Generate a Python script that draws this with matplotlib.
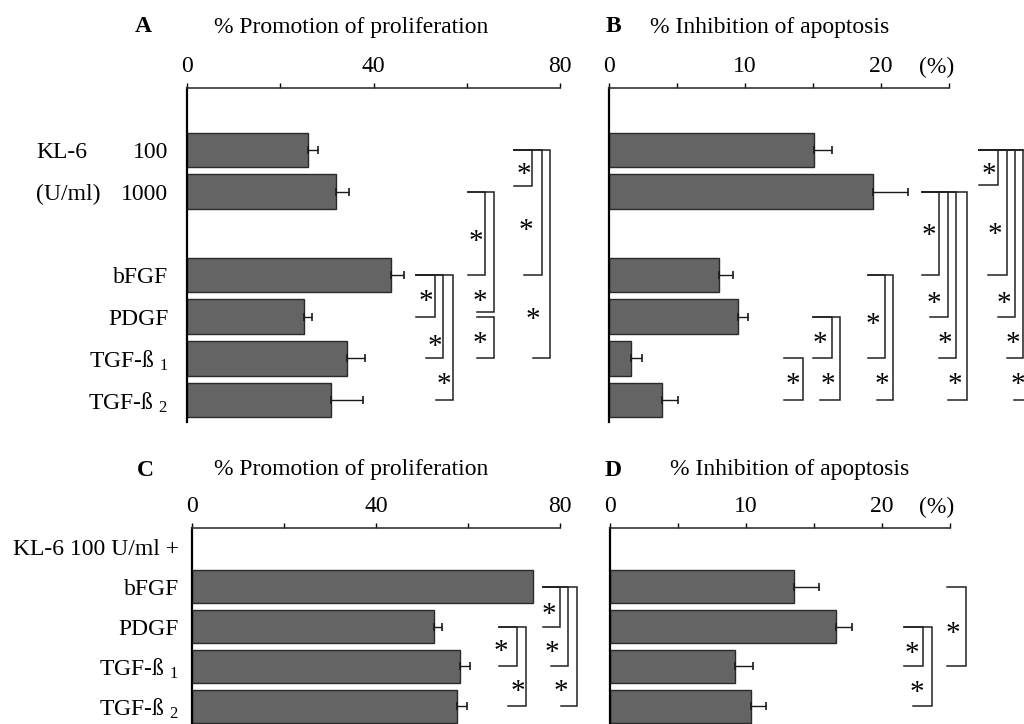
import matplotlib
matplotlib.use("Agg")
import matplotlib.pyplot as plt
from matplotlib import transforms

plt.rcParams["font.family"] = ["Liberation Serif", "DejaVu Serif"]
plt.rcParams["mathtext.default"] = "regular"
plt.rcParams["font.size"] = 17

W, H = 1024, 724

# single agents (panels A and B)
ab_rows = [0, 1, 3, 4, 5, 6]
ab_labels = ["100", "1000", "bFGF", "PDGF", "TGF-ß $_1$", "TGF-ß $_2$"]
prolif_a = [26.0, 32.0, 43.8, 25.0, 34.4, 30.9]
prolif_a_err = [2.1, 2.7, 2.7, 1.9, 3.7, 6.9]
apopt_b = [15.1, 19.4, 8.1, 9.5, 1.6, 3.9]
apopt_b_err = [1.3, 2.6, 1.0, 0.7, 0.8, 1.2]

# KL-6 100 U/ml combined with growth factors (panels C and D)
cd_rows = [1, 2, 3, 4]
cd_labels = ["KL-6 100 U/ml +", "bFGF", "PDGF", "TGF-ß $_1$", "TGF-ß $_2$"]
prolif_c = [74.2, 52.5, 58.3, 57.5]
prolif_c_err = [0.0, 1.8, 2.1, 2.2]
apopt_d = [13.5, 16.6, 9.2, 10.4]
apopt_d_err = [1.9, 1.2, 1.3, 1.1]

# significance brackets: (top row, top left, [(bottom row, vertical x, bottom left, star x, star y)])
brackets_a = [
    (3, 49.2, [(4, 53.2, 49.2, 51.3, 3.48), (5, 55.0, 51.3, 53.2, 4.56), (6, 57.0, 53.3, 55.0, 5.47)]),
    (1, 60.3, [(3, 64.0, 60.3, 61.9, 2.04), (3.9, 65.9, 62.2, 62.8, 3.48)]),
    (4.0, 62.2, [(5, 65.9, 62.2, 62.8, 4.5)]),
    (0, 70.1, [(0.87, 74.1, 70.1, 72.2, 0.43), (3, 76.1, 72.2, 72.6, 1.78), (5, 77.9, 74.2, 74.2, 3.91)]),
]
brackets_b = [
    (5, 12.9, [(6, 14.3, 12.9, 13.55, 5.47)]),
    (4, 14.97, [(5, 16.4, 14.97, 15.5, 4.49), (6, 17.0, 15.5, 16.1, 5.47)]),
    (3, 19.07, [(5, 20.3, 19.07, 19.4, 4.03), (6, 20.9, 19.7, 20.05, 5.47)]),
    (1, 23.0, [(3, 24.3, 23.0, 23.5, 1.9), (4, 24.95, 23.6, 23.9, 3.53),
               (5, 25.5, 24.3, 24.7, 4.49), (6, 26.3, 24.95, 25.4, 5.47)]),
    (0, 27.2, [(0.85, 28.6, 27.2, 27.9, 0.43), (3, 29.3, 27.9, 28.4, 1.87), (4, 29.85, 28.6, 29.0, 3.53),
               (5, 30.45, 29.3, 29.7, 4.49), (6, 31.0, 29.8, 30.1, 5.47)]),
]
brackets_c = [
    (2, 66.7, [(3, 70.6, 66.7, 67.25, 2.47), (4, 72.5, 68.75, 70.8, 3.47)]),
    (1, 76.25, [(2, 80.0, 76.25, 77.5, 1.53), (3, 81.7, 78.1, 78.3, 2.49), (4, 83.6, 80.25, 80.25, 3.47)]),
]
brackets_d = [
    (2, 21.6, [(3, 23.0, 21.6, 22.2, 2.52), (4, 23.65, 22.3, 22.55, 3.5)]),
    (1, 24.8, [(3, 26.2, 24.8, 25.2, 2.01)]),
]

fig = plt.figure(figsize=(W / 100, H / 100), dpi=100)


def make_axes(x0, x1, y0, y1):
    return fig.add_axes([x0 / W, 1 - y1 / H, (x1 - x0) / W, (y1 - y0) / H])


def style_axes(ax, xmax, major, ticklabels, ylim):
    ax.set_xlim(0, xmax)
    ax.set_ylim(*ylim)
    for side in ("right", "bottom"):
        ax.spines[side].set_visible(False)
    ax.spines["left"].set_linewidth(1.6)
    ax.spines["top"].set_linewidth(1.2)
    ax.spines["top"].set_color("#333333")
    ax.xaxis.tick_top()
    ax.set_xticks([i * major for i in range(len(ticklabels))])
    ax.set_xticklabels(ticklabels)
    ax.tick_params(axis="x", direction="out", length=3.6, width=1.0, pad=4, labelsize=17)
    ax.tick_params(axis="y", length=0)
    ax.patch.set_visible(False)


def draw_bars(ax, rows, vals, errs):
    ax.barh(rows, vals, height=0.83, color="#646464", edgecolor="#2a2a2a", linewidth=1.0)
    for r, v, e in zip(rows, vals, errs):
        if e > 0:
            ax.errorbar(v, r, xerr=[[0], [e]], fmt="none", ecolor="#1a1a1a",
                        elinewidth=1.0, capsize=3.2, capthick=1.2)


def draw_brackets(ax, groups):
    for top_row, top_left, legs in groups:
        for bot_row, x_vert, bot_left, sx, sy in legs:
            ax.plot([top_left, x_vert, x_vert, bot_left], [top_row, top_row, bot_row, bot_row],
                    color="#222222", lw=1.1, clip_on=False, solid_joinstyle="miter")
            ax.annotate("*", (sx, sy), xytext=(0, -10), textcoords="offset points",
                        ha="center", va="baseline", fontsize=21, annotation_clip=False)


# A: proliferation, single agents
ax_a = make_axes(187, 560, 88, 422)
style_axes(ax_a, 80, 20, ["0", "", "40", "", "80"], (6.53, -1.49))
draw_bars(ax_a, ab_rows, prolif_a, prolif_a_err)
ax_a.set_yticks(ab_rows)
ax_a.set_yticklabels(ab_labels)
ax_a.tick_params(axis="y", pad=13.5, labelsize=17)
draw_brackets(ax_a, brackets_a)
trans_a = transforms.blended_transform_factory(fig.transFigure, ax_a.transData)
ax_a.text(36 / W, 0, "KL-6", transform=trans_a, ha="left", va="center_baseline", fontsize=17)
ax_a.text(36 / W, 1, "(U/ml)", transform=trans_a, ha="left", va="center_baseline", fontsize=17)

# B: apoptosis, single agents
ax_b = make_axes(609, 949, 88, 422)
style_axes(ax_b, 25, 5, ["0", "", "10", "", "20", ""], (6.53, -1.49))
draw_bars(ax_b, ab_rows, apopt_b, apopt_b_err)
ax_b.set_yticks([])
draw_brackets(ax_b, brackets_b)

# C: proliferation, KL-6 plus growth factors
ax_c = make_axes(192, 560, 528, 724)
style_axes(ax_c, 80, 20, ["0", "", "40", "", "80"], (4.45, -0.48))
draw_bars(ax_c, cd_rows, prolif_c, prolif_c_err)
ax_c.set_yticks([0] + cd_rows)
ax_c.set_yticklabels(cd_labels)
ax_c.tick_params(axis="y", pad=9.5, labelsize=17)
draw_brackets(ax_c, brackets_c)

# D: apoptosis, KL-6 plus growth factors
ax_d = make_axes(610, 950, 528, 724)
style_axes(ax_d, 25, 5, ["0", "", "10", "", "20", ""], (4.45, -0.48))
draw_bars(ax_d, cd_rows, apopt_d, apopt_d_err)
ax_d.set_yticks([])
draw_brackets(ax_d, brackets_d)


def fig_text(x, y, s, **kw):
    fig.text(x / W, 1 - y / H, s, va="center", fontsize=17, **kw)


fig_text(143, 27, "A", ha="center", fontweight="bold")
fig_text(214, 27, "% Promotion of proliferation", ha="left")
fig_text(613, 27, "B", ha="center", fontweight="bold")
fig_text(650, 27, "% Inhibition of apoptosis", ha="left")
fig_text(937, 67, "(%)", ha="center")
fig_text(145, 470, "C", ha="center", fontweight="bold")
fig_text(214, 470, "% Promotion of proliferation", ha="left")
fig_text(613, 470, "D", ha="center", fontweight="bold")
fig_text(670, 470, "% Inhibition of apoptosis", ha="left")
fig_text(937, 507, "(%)", ha="center")

fig.savefig("out.png", dpi=100)
